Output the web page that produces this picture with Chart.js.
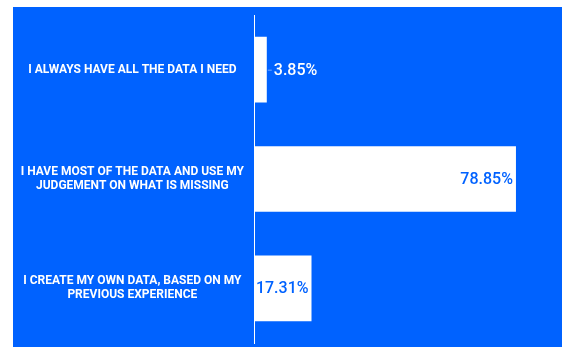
<!DOCTYPE html>
<html>
<head>
<meta charset="utf-8">
<script src="https://cdn.jsdelivr.net/npm/chart.js@4"></script>
<style>
  html, body { margin: 0; padding: 0; background: #ffffff; }
  #box { position: absolute; left: 13px; top: 7px; width: 549px; height: 340px; background: #0062ff; }
  #box canvas { display: block; }
</style>
</head>
<body>
<div id="box"><canvas id="chart-data" width="549" height="340"></canvas></div>
<script>
/* ===== DATA AVAILABILITY — horizontal bars ===== */
const categories = [
  'I ALWAYS HAVE ALL THE DATA I NEED',
  ['I HAVE MOST OF THE DATA AND USE MY', 'JUDGEMENT ON WHAT IS MISSING'],
  ['I CREATE MY OWN DATA, BASED ON MY', 'PREVIOUS EXPERIENCE']
];
const shares = [3.85, 78.85, 17.31];
const valueLabels = ['3.85%', '78.85%', '17.31%'];

const BLUE = '#0062ff';
const WHITE = '#ffffff';

// value text: inside the bar (blue) when it fits, otherwise just past its end (white)
const barValues = {
  id: 'barValues',
  afterDatasetsDraw(chart) {
    const ctx = chart.ctx;
    const bars = chart.getDatasetMeta(0).data;
    ctx.save();
    ctx.font = '500 16px Roboto, "Liberation Sans", sans-serif';
    ctx.textBaseline = 'middle';
    bars.forEach((bar, i) => {
      const txt = valueLabels[i];
      const w = ctx.measureText(txt).width;
      const len = bar.x - bar.base;
      if (len >= w + 4) {
        ctx.fillStyle = BLUE;
        ctx.textAlign = 'right';
        ctx.fillText(txt, bar.x - 3, bar.y + 1);
      } else {
        ctx.strokeStyle = 'rgba(255,255,255,.45)';
        ctx.lineWidth = 1;
        ctx.beginPath();
        ctx.moveTo(bar.x + 1, bar.y + 0.5);
        ctx.lineTo(bar.x + 5, bar.y + 0.5);
        ctx.stroke();
        ctx.fillStyle = WHITE;
        ctx.textAlign = 'left';
        ctx.fillText(txt, bar.x + 7, bar.y + 1);
      }
    });
    ctx.restore();
  }
};

new Chart(document.getElementById('chart-data'), {
  type: 'bar',
  data: {
    labels: categories,
    datasets: [{ data: shares, backgroundColor: WHITE, borderWidth: 0, barPercentage: 0.6, categoryPercentage: 1 }]
  },
  options: {
    indexAxis: 'y',
    responsive: false,
    animation: false,
    layout: { padding: { top: 8, bottom: 4, left: 0, right: 9 } },
    plugins: { legend: { display: false }, tooltip: { enabled: false } },
    scales: {
      x: { display: false, min: 0, max: 90 },
      y: {
        afterFit(scale) {
          // fixed label column, no extra room for the first/last label
          scale.width = 241;
          scale.paddingTop = 0;
          scale.paddingBottom = 0;
        },
        grid: { display: false, drawTicks: false },
        border: { display: true, color: WHITE, width: 1 },
        ticks: {
          color: WHITE,
          crossAlign: 'center',
          padding: 10,
          font: { family: 'Roboto, "Liberation Sans", sans-serif', size: 12, weight: 'bold', lineHeight: 1.15 }
        }
      }
    }
  },
  plugins: [barValues]
});
</script>
</body>
</html>
